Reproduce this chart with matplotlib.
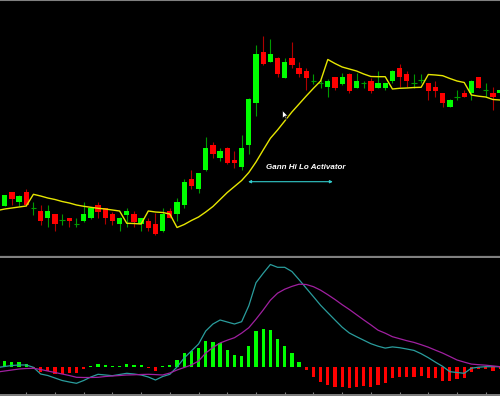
import numpy as np
import matplotlib
matplotlib.use("Agg")
import matplotlib.pyplot as plt
from matplotlib.path import Path

# price candles (pips above chart base), one per bar
opens = [50.5, 63.7, 53.7, 63.7, 47.7, 45, 37.7, 41.7, 35.7, 38.3,
         32.3, 35, 38.3, 51, 47.7, 41.7, 31.7, 41, 41.7, 31.7,
         35, 32, 25, 45, 41.7, 50.7, 76.8, 66.7, 86, 111,
         98.3, 108.3, 96, 89.3, 111, 153.3, 204.3, 194.3, 197.7, 178.3,
         197.7, 187.7, 185, 175, 173.3, 169, 178.7, 171.7, 182, 168.3,
         172.7, 175.3, 168.3, 168.3, 175.3, 188.3, 182, 172.7, 176, 172.7,
         169.3, 162.7, 149.3, 159.3, 162.7, 162.7, 178.7, 166, 162.7, 162.7]
highs = [61.5, 64, 61, 67, 53.7, 51, 51, 42.5, 42, 38.5,
         38.3, 54.3, 49, 54.3, 48.5, 44.3, 39, 48.3, 45, 38.5,
         38.3, 43, 47.7, 47.7, 57.7, 77, 86, 83.5, 118.7, 114.3,
         108.3, 109, 105, 121, 157.5, 211, 220.3, 217, 198.5, 197.7,
         213.7, 194.3, 187.7, 181.7, 176, 176.5, 179, 182.7, 182.5, 182.7,
         175.3, 177.7, 185, 173, 185.5, 191.7, 185, 181.7, 181.7, 173,
         175.3, 163, 156.5, 166, 166, 175.7, 179, 172.7, 169.3, 166.5]
lows = [50, 51, 50.3, 50, 41, 31, 28.7, 25, 31, 29.3,
        28.7, 34, 37.5, 37.7, 32, 31, 25, 29.3, 29.3, 25,
        25, 21, 24.5, 37.7, 35, 47.7, 66.7, 63.3, 85.5, 98,
        95, 92, 87.7, 86, 101.7, 140, 191, 193.5, 179.3, 178,
        187.7, 179.3, 166, 171.7, 168.3, 159.3, 166, 171, 162.7, 168,
        168.3, 162.7, 168, 166, 172.7, 169.3, 169.3, 168.3, 172.7, 156,
        159.3, 149.3, 149, 156, 159, 156, 168, 159.3, 146, 162]
closes = [61, 57, 60.3, 51, 47.7, 35, 45, 31.7, 35.7, 35,
          32.3, 41.7, 48.3, 44.3, 38.3, 35, 38.3, 45, 34.3, 38.3,
          28.3, 21.7, 41.7, 38.3, 54.3, 73.5, 70, 82.7, 108.3, 101.7,
          105, 92.7, 92.7, 108.3, 156.7, 201.7, 191.7, 201.7, 181.7, 194.3,
          191, 181.7, 178.3, 175, 173.3, 175.5, 168.3, 178.7, 165.3, 175.3,
          172.7, 165.3, 172.7, 172.7, 185, 178.7, 175.3, 172.7, 176, 165.3,
          165.3, 152.7, 156, 159.3, 159.3, 175.3, 168.3, 166, 159.3, 166]

# Gann Hi-Lo activator, from one bar before the first candle
gann = [45.5, 47, 48, 49, 50, 61.7, 60, 58, 56.5, 54.5, 53,
        51, 49.7, 48.7, 47.7, 47, 46, 45, 32.7, 32.5, 32,
        45, 44, 43.5, 42, 28.5, 31.5, 35.5, 39, 44, 49.5,
        56.5, 63.5, 69.5, 75.5, 83.5, 94, 106, 117.7, 126, 135,
        144, 152, 160, 167.7, 175, 196.5, 192.5, 189, 187, 185,
        182, 179.5, 179.3, 179.3, 167, 167.7, 168, 168.5, 168.7, 181.5,
        181, 180.3, 177.5, 175, 173.5, 161, 159.8, 159, 156.5, 156]

# MACD histogram (main - signal), one per bar
hist = [5.7, 5, 5, 2.4, -0.8, -5, -4.3, -7.3, -7.3, -6.6,
        -6.6, -2.6, 1, 2.7, 1.7, 0.7, 0.9, 2.7, 1.7, 1.7,
        -1.3, -4, 0.9, 1.7, 6.7, 14, 16, 19, 25.7, 25,
        23.4, 16.7, 11.4, 10.7, 21, 35.7, 37.4, 36.7, 27.4, 21,
        14, 5, -3.3, -10, -15, -18.3, -20.6, -20, -21.6, -20,
        -19, -20, -18.3, -16, -11, -10, -10, -10, -9.3, -11,
        -11.6, -14, -14, -12.3, -11, -5, -2.6, -2.3, -4, -2.5]

# MACD main and signal lines, from one bar before the first candle
macd_main = [-0.8, 0.2, 1.2, 1.7, 1.7, -0.6, -7.3, -8.8, -11.3, -13.8, -15.3,
             -16.6, -13.8, -10.3, -7.6, -8.3, -9, -7.8, -6.6, -7.3, -8.3,
             -10.3, -13.3, -9.8, -7.6, -0.3, 8.7, 15.7, 22.7, 35.7, 42.7,
             46.7, 44.7, 42.7, 45, 61, 84, 93.4, 102.2, 99.4, 99.4,
             95.2, 87, 78.5, 70, 61.4, 54, 46.7, 39.5, 33.7, 30,
             26.5, 23, 20.5, 18.6, 19.8, 19, 17.7, 16.3, 13, 9,
             4.5, 0.3, -5, -5.8, -6.6, -1.5, -0.5, 0, 0, 0]
macd_signal = [-5.3, -4.3, -3.3, -2.3, -1.8, -1.6, -2.8, -4.3, -5.8, -7.3, -8.8,
               -10.6, -10.8, -10.8, -10.6, -9.8, -9.3, -8.8, -8.3, -8.1, -7.8,
               -7.6, -7.9, -8.3, -6.3, -3.3, -0.8, 1.7, 5.7, 13.7, 19.2,
               23.7, 26.5, 29, 33.6, 39, 47.5, 56.7, 66.5, 73.5, 77.5,
               80.3, 82.5, 82.2, 80, 76.5, 72, 67.2, 62, 57.2, 52,
               46.8, 41.8, 36.5, 33.5, 30, 28, 26, 24.3, 22, 19.5,
               16.5, 13.6, 10.2, 6.7, 4.6, 2.6, 2, 1.5, 0.8, 0]

o = np.array(opens)
h = np.array(highs)
l = np.array(lows)
c = np.array(closes)
bars = np.arange(len(o))
line_x = np.arange(-1, len(o))

W, H = 500, 396
fig = plt.figure(figsize=(W / 100, H / 100), dpi=100, facecolor="black")
ax1 = fig.add_axes([0, (H - 256.5) / H, 1, 256 / H], facecolor="black")
ax2 = fig.add_axes([0, (H - 394.5) / H, 1, 137 / H], facecolor="black")

xlim = (-4.7 / 7.18, (W - 4.7) / 7.18)
grey = "#808080"

# price panel
up = c > o
down = c < o
flat = c == o
ax1.vlines(bars[up | flat], l[up | flat], h[up | flat], color="#009a00", lw=0.8, zorder=2)
ax1.vlines(bars[down], l[down], h[down], color="#b00000", lw=0.8, zorder=2)
ax1.bar(bars[up], (c - o)[up], bottom=o[up], width=0.74, color="#00ff00", zorder=3)
ax1.bar(bars[down], (o - c)[down], bottom=c[down], width=0.74, color="#ff0000", zorder=3)
ax1.hlines(o[flat], bars[flat] - 0.37, bars[flat] + 0.37, color="#009a00", lw=0.8, zorder=3)
ax1.plot(line_x, gann, color="#e6e600", lw=1.0, zorder=4)

ax1.text(41.96, 88.5, "Gann Hi Lo Activator", color="white", fontsize=5.8,
         fontweight="bold", fontstyle="italic", family="Liberation Sans",
         ha="center", va="center")
ax1.annotate("", xy=(33.9, 74.3), xytext=(45.7, 74.3),
             arrowprops=dict(arrowstyle="<|-|>", color="#33cccc", lw=0.8,
                             mutation_scale=4, shrinkA=0, shrinkB=0))

# mouse pointer left on the screenshot
cursor = Path([(0, 0), (0, -16), (4, -12), (7, -18), (9, -17), (6, -11), (11, -11), (0, 0)],
              [Path.MOVETO] + [Path.LINETO] * 6 + [Path.CLOSEPOLY])
ax1.plot([38.62], [146], marker=cursor, ms=13, color="white", mec="black", mew=0.5, zorder=5)

ax1.set_xlim(*xlim)
ax1.set_ylim(-0.5, 255.5)

# MACD panel
hist_a = np.array(hist)
hcol = np.where(hist_a >= 0, "#00ff00", "#ff0000")
ax2.bar(bars, hist_a, width=0.45, color=hcol, zorder=2)
ax2.plot(line_x, macd_main, color="#2a9d9d", lw=0.9, zorder=3)
ax2.plot(line_x, macd_signal, color="#a020a0", lw=0.9, zorder=3)
ax2.set_xlim(*xlim)
ax2.set_ylim(-27.8, 109.2)

for ax in (ax1, ax2):
    for side in ("left", "right"):
        ax.spines[side].set_visible(False)
    ax.set_yticks([])
ax1.spines["top"].set_color(grey)
ax1.spines["top"].set_linewidth(1.5)
ax1.spines["bottom"].set_color(grey)
ax1.spines["bottom"].set_linewidth(1.6)
ax1.set_xticks([])
ax2.spines["top"].set_visible(False)
ax2.spines["bottom"].set_color(grey)
ax2.spines["bottom"].set_linewidth(1.4)
ax2.set_xticks(np.arange(3, 70, 4))
ax2.set_xticklabels([])
ax2.tick_params(axis="x", direction="in", length=2, width=0.8, color=grey)

fig.savefig("out.png", dpi=100, facecolor="black")
